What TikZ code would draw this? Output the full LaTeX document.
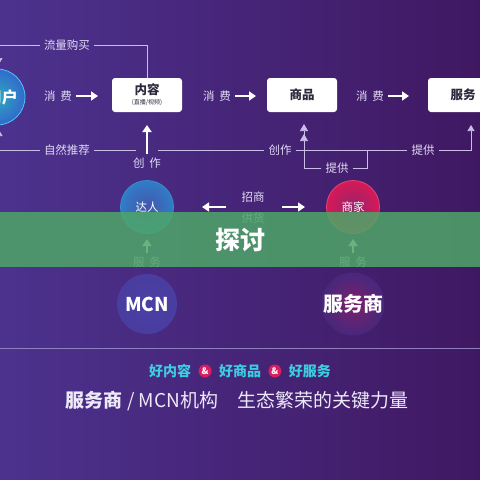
\documentclass[tikz,border=0pt]{standalone}
\usepackage{fontspec}
\setmainfont{Noto Sans CJK SC}
\usetikzlibrary{arrows.meta,positioning}

\definecolor{bgleft}{RGB}{76,50,142}
\definecolor{bgright}{RGB}{64,24,98}
\definecolor{linecol}{RGB}{200,190,232}
\definecolor{labelcol}{RGB}{225,218,245}
\definecolor{boxtext}{RGB}{45,40,60}
\definecolor{bannergreen}{RGB}{78,166,104}
\definecolor{goodcyan}{RGB}{60,205,225}
\definecolor{amppink}{RGB}{215,30,95}
\definecolor{tealglow}{RGB}{45,170,190}
\definecolor{blueglow}{RGB}{50,105,205}
\definecolor{redglow}{RGB}{215,25,85}
\definecolor{plumglow}{RGB}{150,35,110}
\definecolor{mcnblue}{RGB}{74,64,165}

\begin{document}
\begin{tikzpicture}[x=1pt, y=-1pt,
    box/.style={fill=white, rounded corners=3pt, minimum width=70pt, minimum height=34pt,
        text=boxtext, font=\bfseries\fontsize{12.5}{13}\selectfont, inner sep=0pt},
    lbl/.style={text=labelcol, font=\fontsize{11.5}{12}\selectfont, inner sep=4pt},
    line/.style={draw=linecol, line width=0.6pt},
    linearrow/.style={line, -{Triangle[width=7pt, length=6pt]}},
    arrow/.style={-{Triangle[width=9pt, length=7pt]}, line width=1.8pt, white},
    role/.style={circle, minimum size=53pt, inner sep=0pt, text=white,
        font=\fontsize{11.5}{12}\selectfont},
    big/.style={text=white, font=\bfseries\fontsize{19}{20}\selectfont},
    good/.style={text=goodcyan, font=\bfseries\fontsize{14}{15}\selectfont, inner sep=1pt},
    ampdot/.style={circle, fill=amppink, text=white, minimum size=13pt, inner sep=0pt,
        font=\bfseries\fontsize{9}{9}\selectfont},
    node distance=6pt
]
\useasboundingbox (0,0) rectangle (480,480);
\clip (0,0) rectangle (480,480);
\shade[left color=bgleft, right color=bgright] (0,0) rectangle (480,480);

%% ============================================================
%% TOP ROW: user -> content -> goods -> service
%% ============================================================
\node[role, inner color=tealglow, outer color=blueglow, draw=cyan!70!white, line width=0.8pt,
      minimum size=56pt] (user) at (-3,97) {};
\node[text=white, font=\bfseries\fontsize{16}{16}\selectfont] (userlbl) at (2,97) {用户};

\node[box, align=center] (content) at (147,95)
    {内容\\[-3pt]{\mdseries\fontsize{6}{7}\selectfont(直播/视频)}};
\node[box] (goods) at (302,95) {商品};
\node[box] (service) at (463,95) {服务};

\node[lbl] (consume1) at (58,96) {消\hspace{5pt}费};
\node[lbl] (consume2) at (217,96) {消\hspace{5pt}费};
\node[lbl] (consume3) at (370,96) {消\hspace{5pt}费};
\coordinate (tip1) at (98,96);
\coordinate (tip2) at (256,96);
\coordinate (tip3) at (409,96);
\draw[arrow] (consume1) -- (tip1);
\draw[arrow] (consume2) -- (tip2);
\draw[arrow] (consume3) -- (tip3);

%% traffic purchase loop
\node[lbl] (buy) at (67,45) {流量购买};
\coordinate (buyL) at (-1,45);
\coordinate (buyEnd) at (-1,64);
\draw[line] (content.north) |- (buy);
\draw[linearrow] (buy) -- (buyL) -- (buyEnd);

%% natural recommendation / creation / supply line
\node[lbl] (recommend) at (67,150) {自然推荐};
\coordinate (recL) at (-1,150);
\coordinate (recEnd) at (-1,130);
\coordinate (gapL) at (136,150);
\coordinate (gapR) at (158,150);
\draw[linearrow] (recommend) -- (recL) -- (recEnd);
\draw[line] (recommend) -- (gapL);
\node[lbl] (create2) at (280,150) {创作};
\node[lbl] (provide2) at (423,150) {提供};
\coordinate (serviceTip) at (471,125);
\draw[line] (gapR) -- (create2);
\draw[line] (create2) -- (provide2);
\draw[linearrow] (provide2) -| (serviceTip);

\node[lbl] (provide1) at (337,168) {提供};
\coordinate (goodsTip) at (304,124);
\coordinate (join) at (367,150);
\draw[line, -{Triangle[width=8pt, length=7pt, sep=3pt] Triangle[width=8pt, length=7pt]}]
    (provide1) -| (goodsTip);
\draw[line] (provide1) -| (join);

\node[lbl] (create1) at (147,163) {创\hspace{5pt}作};
\coordinate (contentTip) at (147,125);
\draw[arrow] (create1) -- (contentTip);

%% ============================================================
%% MIDDLE ROW: talent <-> merchant, service providers below
%% ============================================================
\node[role, inner color=mcnblue!80!tealglow, outer color=blueglow!70!tealglow, draw=cyan!50!blueglow,
      line width=0.8pt] (talent) at (147,207) {达人};
\node[role, inner color=plumglow, outer color=redglow, draw=redglow!80!white, line width=0.8pt]
    (merchant) at (353,207) {商家};

\node[lbl] (invite) at (253,197) {招商};
\node[lbl] (supply) at (253,218) {供货};
\coordinate (midL) at (226,207);
\coordinate (midR) at (282,207);
\coordinate (talentTip) at (202,207);
\coordinate (merchantTip) at (305,207);
\draw[arrow, line width=1.4pt] (midL) -- (talentTip);
\draw[arrow, line width=1.4pt] (midR) -- (merchantTip);

\node[lbl] (serve1) at (147,262) {服\hspace{5pt}务};
\node[lbl] (serve2) at (353,262) {服\hspace{5pt}务};
\coordinate (talentUp) at (147,239);
\coordinate (merchantUp) at (353,239);
\draw[arrow] (serve1) -- (talentUp);
\draw[arrow] (serve2) -- (merchantUp);

\node[role, minimum size=60pt, inner color=mcnblue, outer color=mcnblue!75!bgleft, big]
    (mcn) at (147,304) {MCN};
\node[role, minimum size=62pt, inner color=plumglow!70!bgright, outer color=bgleft!60!bgright, big,
      font=\bfseries\fontsize{20}{21}\selectfont]
    (provider) at (353,304) {服务商};

%% ============================================================
%% BOTTOM: slogan
%% ============================================================
\draw[draw=linecol!55!bgleft, line width=0.8pt] (0,348) -- (480,348);

\node[good] (good2) at (240,371) {好商品};
\node[ampdot, left=of good2] (amp1) {\&};
\node[good, left=of amp1] (good1) {好内容};
\node[ampdot, right=of good2] (amp2) {\&};
\node[good, right=of amp2] (good3) {好服务};

\node[text=labelcol!60!white, font=\fontsize{19}{20}\selectfont] (motto) at (237,401)
    {\textbf{服务商} / MCN机构\hspace{1em}生态繁荣的关键力量};

%% green banner on top
\fill[bannergreen, opacity=0.85] (0,212) rectangle (480,267);
\node[text=white, font=\bfseries\fontsize{25}{26}\selectfont] (banner) at (240,240) {探讨};
\end{tikzpicture}
\end{document}
